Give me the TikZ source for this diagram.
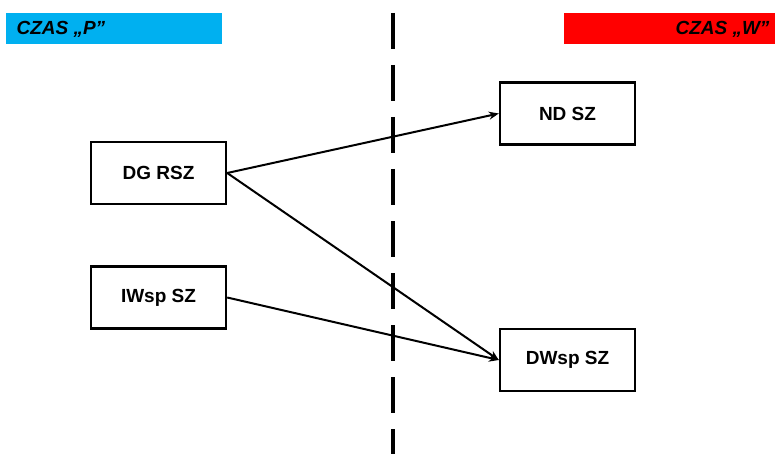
\documentclass[tikz,border=0pt]{standalone}
\usepackage{fontspec}
\setmainfont{Liberation Sans}
\usetikzlibrary{arrows.meta}
\begin{document}
\begin{tikzpicture}[x=1pt,y=-1pt,
  boxst/.style={draw=black,line width=2.4pt,fill=white,minimum width=135pt,minimum height=62pt,inner sep=0pt,font=\fontsize{19}{21}\selectfont\bfseries},
  conn/.style={line width=2pt,-{Stealth[length=10pt,width=8pt]}},
  bartext/.style={font=\fontsize{19}{21}\selectfont\bfseries\itshape}]
\useasboundingbox (0,0) rectangle (775,454);
\fill[fill={rgb,255:red,0;green,176;blue,240}] (6,13) rectangle (222,44);
\node[bartext,anchor=west] (tp) at (13,29) {CZAS „P”};
\fill[fill=red] (564,13) rectangle (775,44);
\node[bartext,anchor=east] (tw) at (773,29) {CZAS „W”};
\coordinate (dtop) at (393,13);
\coordinate (dbot) at (393,454);
\draw[line width=4pt,dash pattern=on 36pt off 16pt] (dtop) -- (dbot);
\node[boxst] (dg) at (158.5,173) {DG RSZ};
\node[boxst] (iw) at (158.5,297.5) {IWsp SZ};
\node[boxst] (nd) at (567.5,113.5) {ND SZ};
\node[boxst] (dw) at (567.5,360) {DWsp SZ};
\draw[conn] (dg.east) -- (nd.west);
\draw[conn] (dg.east) -- (dw.west);
\draw[conn] (iw.east) -- (dw.west);
\end{tikzpicture}
\end{document}
